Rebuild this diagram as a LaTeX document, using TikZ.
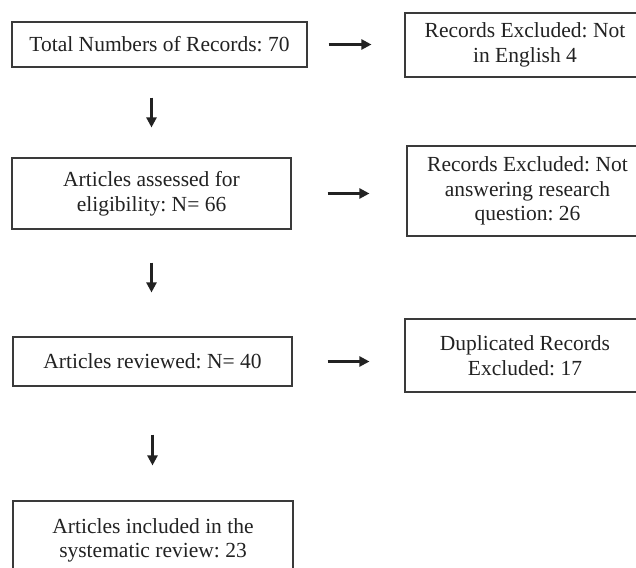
\documentclass[tikz,border=0pt]{standalone}
\usepackage{fontspec}
\setmainfont{Liberation Serif}
\usetikzlibrary{arrows.meta}
\definecolor{ink}{HTML}{222222}
\definecolor{edge}{HTML}{3A3A3A}
\frenchspacing
\begin{document}
\begin{tikzpicture}[x=1pt,y=-1pt,
  box/.style={draw=edge,line width=1.1pt,rectangle,inner sep=0pt,align=center,
    text=ink,font=\fontsize{21.5}{24.5}\selectfont},
  flow/.style={draw=ink,line width=2.3pt,-{Triangle[length=10pt,width=10pt]}}]
\useasboundingbox (0,0) rectangle (636,567);
\clip (0,0) rectangle (636,567);
\fill[white] (0,0) rectangle (636,567);
\node[box,minimum width=295pt,minimum height=45pt] (b1) at (159.5,44.5) {Total Numbers of Records: 70};
\node[box,minimum width=240pt,minimum height=64pt] (b2) at (525,45) {Records Excluded: Not\\in English 4};
\node[box,minimum width=279pt,minimum height=71pt] (b3) at (151.5,193.5) {Articles assessed for\\eligibility: N= 66};
\node[box,minimum width=241pt,minimum height=90pt] (b4) at (527.5,191) {Records Excluded: Not\\answering research\\question: 26};
\node[box,minimum width=279pt,minimum height=49pt] (b5) at (152.5,361.5) {Articles reviewed: N= 40};
\node[box,minimum width=240pt,minimum height=73pt] (b6) at (525,355.5) {Duplicated Records\\Excluded: 17};
\node[box,minimum width=280pt,minimum height=79pt] (b7) at (153,540.5) {Articles included in the\\systematic review: 23};
\draw[flow,shorten <=21pt,shorten >=33pt] (b1.east) -- (b1.east -| b2.west);
\draw[flow,shorten <=36pt,shorten >=37pt] (b3.east) -- (b3.east -| b4.west);
\draw[flow,shorten <=35pt,shorten >=35pt] (b5.east) -- (b5.east -| b6.west);
\draw[flow,shorten <=30pt,shorten >=30pt] (b1.south -| b3.north) -- (b3.north);
\draw[flow,shorten <=33pt,shorten >=44pt] (b3.south) -- (b3.south |- b5.north);
\draw[flow,shorten <=48pt,shorten >=35pt] (b5.south) -- (b5.south |- b7.north);
\end{tikzpicture}
\end{document}
